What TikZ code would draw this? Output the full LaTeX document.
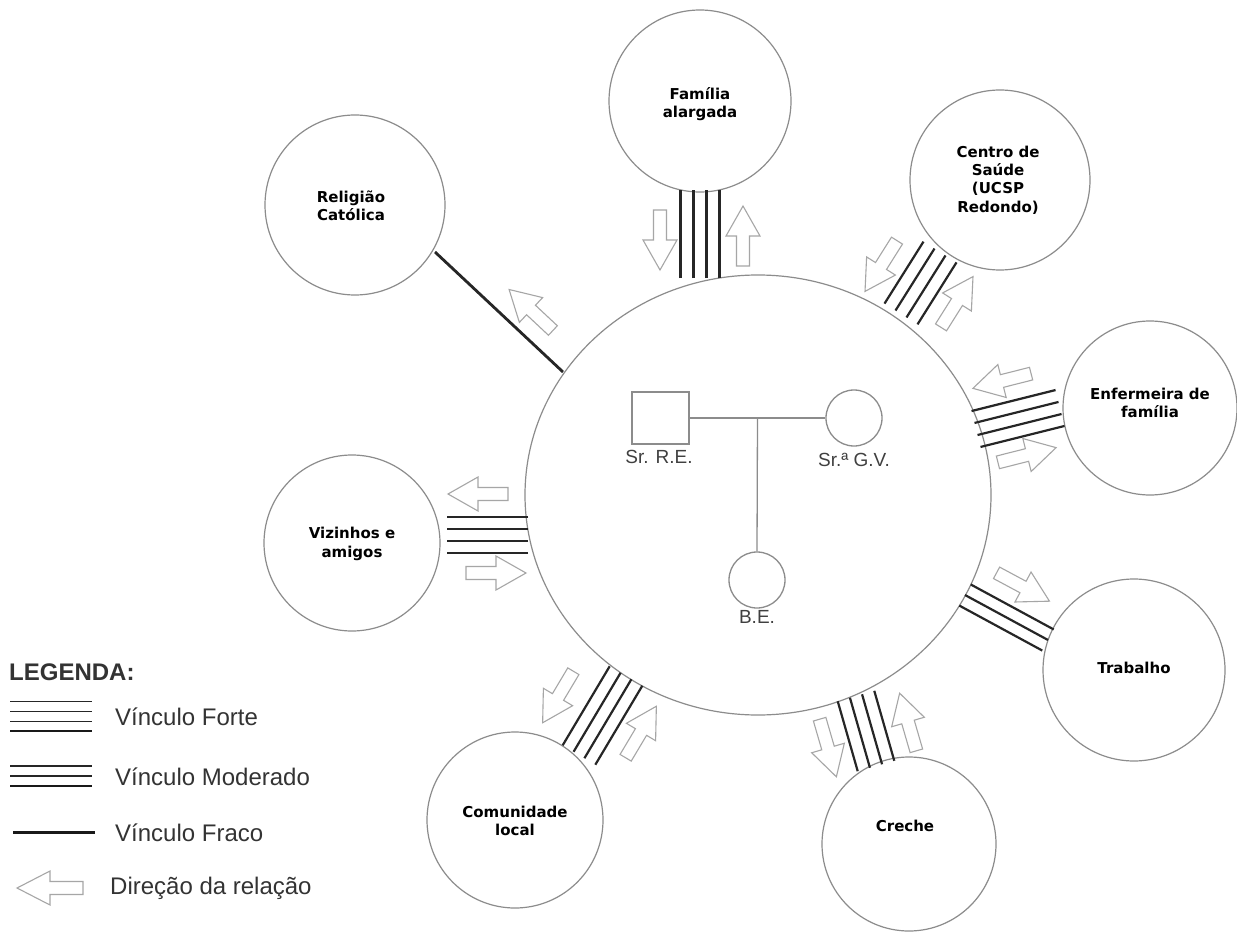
\documentclass[tikz,border=0pt]{standalone}
\usepackage{fontspec}
\setmainfont{Liberation Sans}
\newfontfamily\lblfont{DejaVu Sans}
\usetikzlibrary{calc,shapes.geometric}

% parallel bond lines between two named ends: #1 hub side, #2 outer side,
% #3 list of offset/width pairs
\newcommand\bondset[3]{%
  \foreach \d/\w in {#3}{%
    \draw[bondline, line width=\w pt] ($(#1)!\d pt!90:(#2)$) -- ($(#2)!\d pt!-90:(#1)$);
  }}

\begin{document}
\begin{tikzpicture}[x=1pt,y=-1pt,
  ring/.style={circle,draw=black!45,line width=1.2pt,minimum size=#1,inner sep=0pt},
  ringtext/.style={align=center,text=black,inner sep=0pt,
    font=\lblfont\bfseries\fontsize{15}{18.3}\selectfont},
  bondline/.style={draw=black!85,line cap=butt},
  famline/.style={draw=black!45,line width=1.3pt},
  famtext/.style={text=black!75,font=\fontsize{19}{22}\selectfont,inner sep=0pt},
  legtext/.style={text=black!80,font=\fontsize{24}{28}\selectfont,inner sep=0pt,anchor=west},
  arrowline/.style={draw=black!35,line width=1.1pt,line join=miter},
  relarrow/.pic={\draw[arrowline] (-30,-6.5) -- (0,-6.5) -- (0,-17) -- (30,0) -- (0,17) -- (0,6.5) -- (-30,6.5) -- cycle;}
]
\useasboundingbox[fill=white] (0,0) rectangle (1237,936);

% central household
\node[ellipse,draw=black!45,line width=1.2pt,minimum width=466,minimum height=440,inner sep=0pt] (hub) at (758,495) {};

% surrounding systems
\node[ring=182] (fam)  at (700,101)  {};
\node[ring=180] (cs)   at (1000,180) {};
\node[ring=174] (enf)  at (1150,408) {};
\node[ring=182] (trab) at (1134,670) {};
\node[ring=174] (cre)  at (909,844)  {};
\node[ring=176] (com)  at (515,820)  {};
\node[ring=176] (viz)  at (352,543)  {};
\node[ring=180] (rel)  at (355,205)  {};

\node[ringtext] (famT)  at ($(fam)+(0,3)$)    {Família\\alargada};
\node[ringtext] (csT)   at ($(cs)+(-2,0)$)    {Centro de\\Saúde\\(UCSP\\Redondo)};
\node[ringtext] (enfT)  at ($(enf)+(0,-5)$)   {Enfermeira de\\família};
\node[ringtext] (trabT) at ($(trab)+(0,-2)$)  {Trabalho};
\node[ringtext] (creT)  at ($(cre)+(-4,-18)$) {Creche};
\node[ringtext] (comT)  at ($(com)+(0,1)$)    {Comunidade\\local};
\node[ringtext] (vizT)  at ($(viz)+(0,1)$)    {Vizinhos e\\amigos};
\node[ringtext] (relT)  at ($(rel)+(-4,1)$)   {Religião\\Católica};

% family genogram
\node[draw=black!45,line width=1.3pt,minimum width=57,minimum height=52,inner sep=0pt] (re) at (660.5,418) {};
\node[circle,draw=black!45,line width=1.3pt,minimum size=56,inner sep=0pt] (gv) at (854,418) {};
\node[circle,draw=black!45,line width=1.3pt,minimum size=56,inner sep=0pt] (be) at (757,580) {};
\coordinate (couple) at ($(re.east)!0.5!(gv.west)$);
\draw[famline] (re.east) -- (gv.west);
\draw[famline] (couple) -- (be.north);
\node[famtext] (reL) at (659,457) {Sr. R.E.};
\node[famtext] (gvL) at (854,460) {Sr.ª G.V.};
\node[famtext] (beL) at (757,617) {B.E.};

% ends of the bond bundles
\coordinate (famH) at (700,278);   \coordinate (famO) at (700,190);
\coordinate (csH)  at (901,314);   \coordinate (csO)  at (940,252);
\coordinate (enfH) at (976,429);   \coordinate (enfO) at (1060,408);
\coordinate (trabH) at (965,595);  \coordinate (trabO) at (1048,640);
\coordinate (creH) at (856,696);   \coordinate (creO) at (876,766);
\coordinate (comH) at (626,676);   \coordinate (comO) at (579,755);
\coordinate (vizH) at (528,535);   \coordinate (vizO) at (447,535);
\coordinate (relH) at (563,372);   \coordinate (relO) at (435,252);

\bondset{famH}{famO}{-19.5/2.2,-6.5/2.2,6.5/2.2,19.5/2.2}
\bondset{csH}{csO}{-19.5/2.2,-6.5/2.2,6.5/2.2,19.5/2.2}
\bondset{enfH}{enfO}{-18.5/2.2,-6.2/2.2,6.2/2.2,18.5/2.2}
\bondset{trabH}{trabO}{-12/2.2,0/2.2,12/2.2}
\bondset{creH}{creO}{-19/2.2,-6.3/2.2,6.3/2.2,19/2.2}
\bondset{comH}{comO}{-19/2.2,-6.3/2.2,6.3/2.2,19/2.2}
\bondset{vizH}{vizO}{-18/2.2,-6/2.2,6/2.2,18/2.2}
\bondset{relH}{relO}{0/2.8}

% direction of the relations
\pic[rotate=-90]    at (660,240)   {relarrow};
\pic[rotate=90]     at (743,236)   {relarrow};
\pic[rotate=-122.2] at (881,266)   {relarrow};
\pic[rotate=57.8]   at (957,302)   {relarrow};
\pic[rotate=194.2]  at (1002,381)  {relarrow};
\pic[rotate=14.2]   at (1027,455)  {relarrow};
\pic[rotate=-28.2]  at (1023,587)  {relarrow};
\pic[rotate=-73.8]  at (828,748)   {relarrow};
\pic[rotate=106.2]  at (908,722)   {relarrow};
\pic[rotate=-120.8] at (558,697)   {relarrow};
\pic[rotate=59.2]   at (641,732)   {relarrow};
\pic[rotate=180]    at (478,494)   {relarrow};
\pic[rotate=0]      at (496,573)   {relarrow};
\pic[rotate=136.9]  at (531,310)   {relarrow};

% key
\node[text=black!80,font=\bfseries\fontsize{24}{27}\selectfont,inner sep=0pt,anchor=west] (legT) at (9,672) {LEGENDA:};
\draw[black!85,line width=1.3pt] (10,701.7) -- (92,701.7);
\draw[black!85,line width=1.3pt] (10,711.7) -- (92,711.7);
\draw[black!85,line width=1.3pt] (10,721.7) -- (92,721.7);
\draw[black!90,line width=2.5pt] (10,731) -- (92,731);
\node[legtext] (legF) at (115,717) {Vínculo Forte};
\draw[black!85,line width=1.3pt] (10,766) -- (92,766);
\draw[black!85,line width=1.3pt] (10,776) -- (92,776);
\draw[black!90,line width=2.5pt] (10,786) -- (92,786);
\node[legtext] (legM) at (115,777) {Vínculo Moderado};
\draw[black!90,line width=3pt] (13,832.7) -- (95,832.7);
\node[legtext] (legW) at (115,833) {Vínculo Fraco};
\pic[rotate=180,xscale=1.1] at (50,888) {relarrow};
\node[legtext] (legD) at (110,888) {Direção da relação};
\end{tikzpicture}
\end{document}
